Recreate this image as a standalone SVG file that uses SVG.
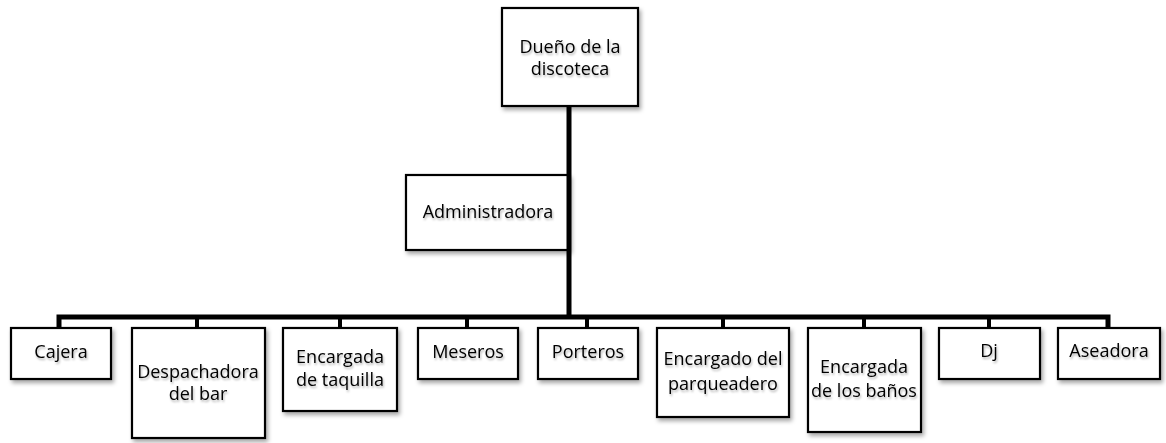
<svg xmlns="http://www.w3.org/2000/svg" width="1166" height="443" viewBox="0 0 1166 443">
<defs>
<filter id="sh" x="-10%" y="-10%" width="130%" height="130%">
<feDropShadow dx="2" dy="3" stdDeviation="2" flood-color="#000" flood-opacity="0.35"/>
</filter>
<filter id="tsh" x="-10%" y="-20%" width="130%" height="160%">
<feDropShadow dx="1" dy="2" stdDeviation="1.2" flood-color="#000" flood-opacity="0.3"/>
</filter>
</defs>
<style>
.box{fill:#fff;stroke:#000;stroke-width:2.2;filter:url(#sh)}
.t{font-family:"Open Sans","DejaVu Sans",sans-serif;font-size:18px;fill:#000;text-anchor:middle;filter:url(#tsh)}
.c{stroke:#000;fill:none;stroke-width:5}
.d{stroke:#000;fill:none;stroke-width:4}
</style>
<rect width="1166" height="443" fill="#fff"/>
<g id="n-dueno"><rect class="box" x="502" y="8" width="136" height="98"/><text class="t" x="570" y="53">Dueño de la</text><text class="t" x="570" y="75">discoteca</text></g>
<g id="n-admin"><rect class="box" x="406" y="175" width="163" height="75"/><text class="t" x="488" y="218">Administradora</text></g>
<g id="n-cajera"><rect class="box" x="11" y="328" width="100" height="51"/><text class="t" x="61" y="358">Cajera</text></g>
<g id="n-despachadora"><rect class="box" x="132" y="328" width="133" height="110"/><text class="t" x="198" y="378">Despachadora</text><text class="t" x="198" y="400">del bar</text></g>
<g id="n-taquilla"><rect class="box" x="283" y="328" width="114" height="83"/><text class="t" x="340" y="363">Encargada</text><text class="t" x="340" y="386">de taquilla</text></g>
<g id="n-meseros"><rect class="box" x="418" y="328" width="100" height="51"/><text class="t" x="468" y="358">Meseros</text></g>
<g id="n-porteros"><rect class="box" x="538" y="328" width="100" height="51"/><text class="t" x="588" y="358">Porteros</text></g>
<g id="n-parqueadero"><rect class="box" x="657" y="328" width="132" height="89"/><text class="t" x="723" y="365">Encargado del</text><text class="t" x="723" y="390">parqueadero</text></g>
<g id="n-banos"><rect class="box" x="808" y="328" width="113" height="104"/><text class="t" x="864" y="373">Encargada</text><text class="t" x="864" y="397">de los baños</text></g>
<g id="n-dj"><rect class="box" x="939" y="328" width="101" height="51"/><text class="t" x="989" y="357">Dj</text></g>
<g id="n-aseadora"><rect class="box" x="1058" y="328" width="102" height="51"/><text class="t" x="1109" y="357">Aseadora</text></g>
<g id="connectors">
<line class="c" x1="569" y1="107" x2="569" y2="317"/>
<path class="c" d="M59 329 V317 H1108 V329"/>
<line class="d" x1="197" y1="317" x2="197" y2="328"/>
<line class="d" x1="340" y1="317" x2="340" y2="328"/>
<line class="d" x1="467" y1="317" x2="467" y2="328"/>
<line class="d" x1="587" y1="317" x2="587" y2="328"/>
<line class="d" x1="723" y1="317" x2="723" y2="328"/>
<line class="d" x1="864" y1="317" x2="864" y2="328"/>
<line class="d" x1="989" y1="317" x2="989" y2="328"/>
</g>
</svg>
